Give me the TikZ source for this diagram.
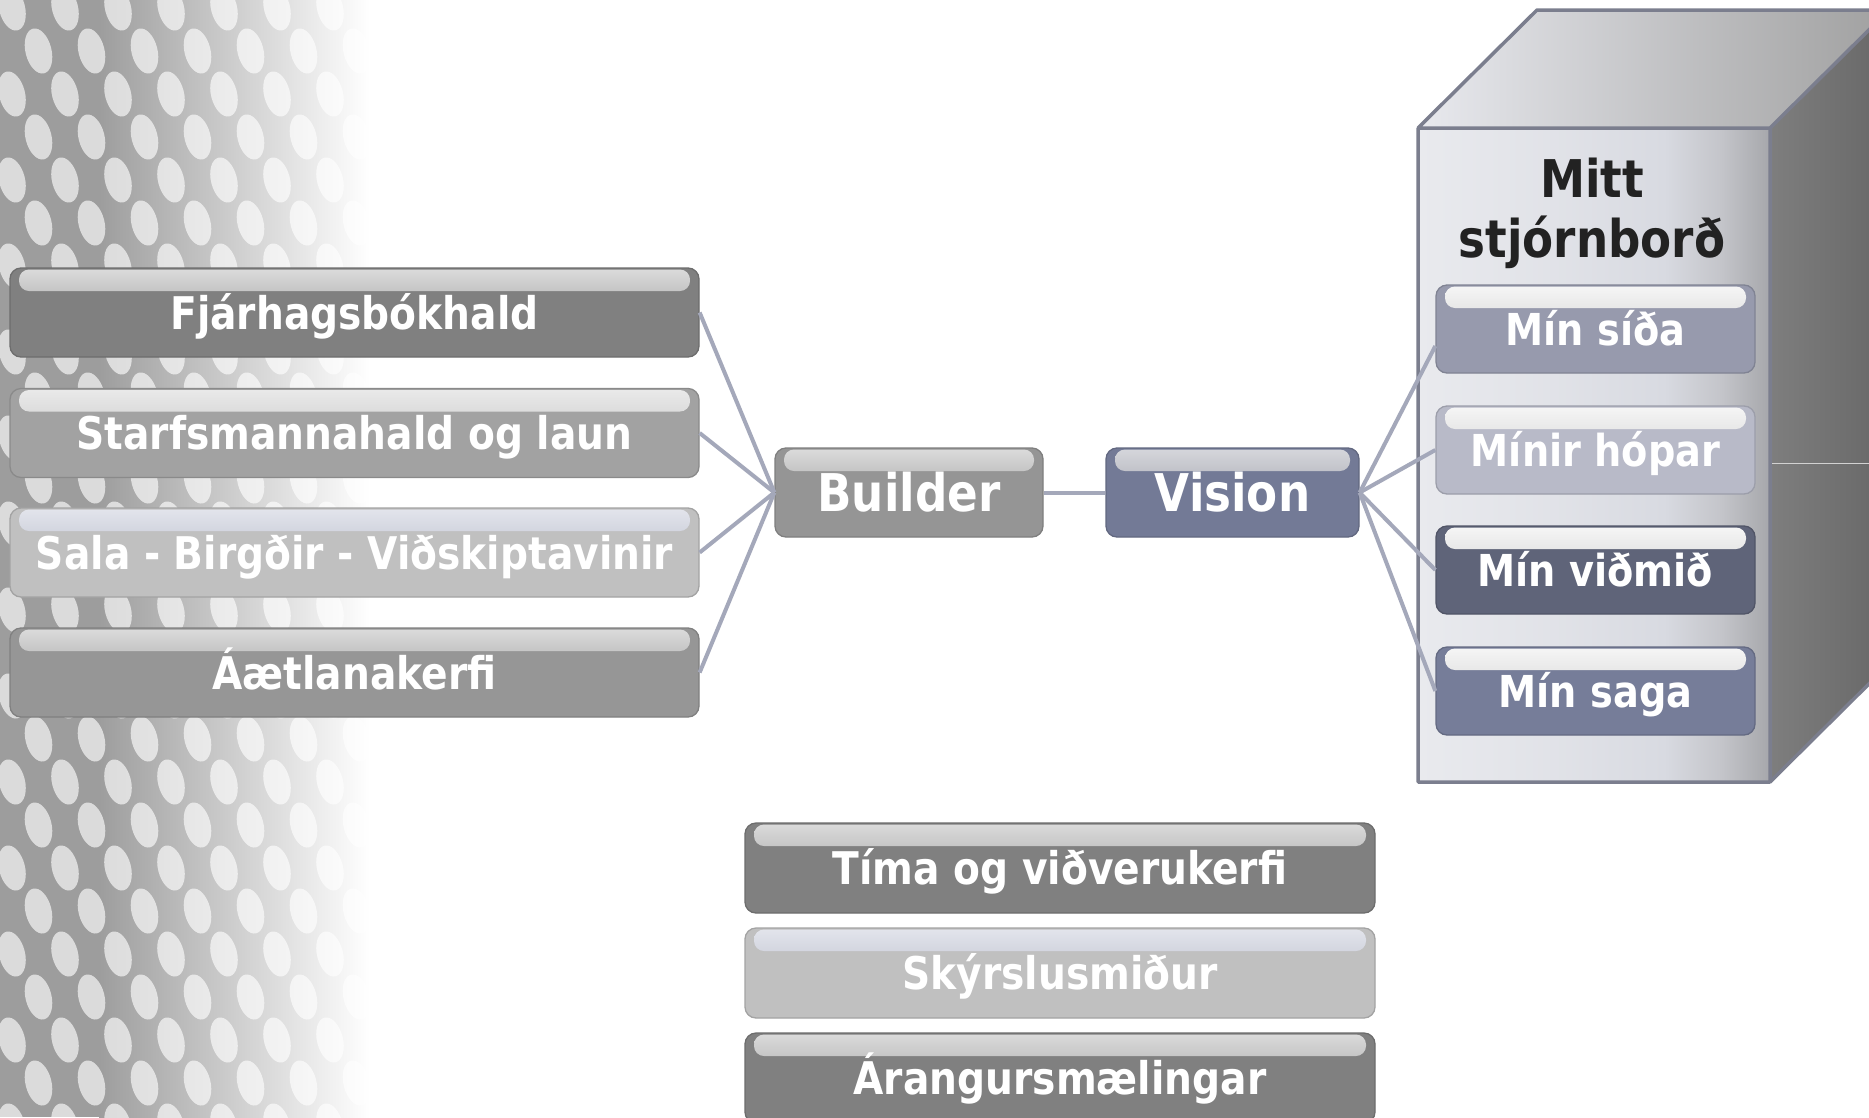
\documentclass[tikz,border=0pt]{standalone}
\usepackage{fontspec}
\newfontfamily\tfont[FakeStretch=0.87]{DejaVu Sans Bold}
\definecolor{cFj}{HTML}{808080}
\definecolor{cSt}{HTML}{A2A2A2}
\definecolor{cSa}{HTML}{C0C0C0}
\definecolor{cAe}{HTML}{969696}
\definecolor{cBu}{HTML}{959595}
\definecolor{cVi}{HTML}{737A96}
\definecolor{cMs}{HTML}{979AAD}
\definecolor{cMh}{HTML}{B8BAC8}
\definecolor{cMv}{HTML}{5F6479}
\definecolor{cMg}{HTML}{767D99}
\definecolor{conncol}{HTML}{A4A8BA}
\definecolor{bDkT}{HTML}{DCDCDC}
\definecolor{bDkB}{HTML}{858585}
\definecolor{bMdT}{HTML}{EAEAEA}
\definecolor{bMdB}{HTML}{B6B6B6}
\definecolor{bBlT}{HTML}{E3E5EC}
\definecolor{bBlB}{HTML}{A5A9BC}
\definecolor{bLtT}{HTML}{F6F6F6}
\definecolor{bLtB}{HTML}{C0C0C0}
\definecolor{bViT}{HTML}{D6D7DC}
\definecolor{bViB}{HTML}{868893}
\definecolor{cubeborder}{HTML}{7B7E8E}
\definecolor{frontL}{HTML}{E9EAEE}
\definecolor{frontM}{HTML}{D8DAE1}
\definecolor{frontMM}{HTML}{C4C5CA}
\definecolor{frontR}{HTML}{A6A7AB}
\definecolor{topL}{HTML}{E8E9EE}
\definecolor{topR}{HTML}{A0A0A0}
\definecolor{sideL}{HTML}{7E7E7E}
\definecolor{sideR}{HTML}{676767}
\definecolor{titlecol}{HTML}{222222}
\definecolor{bgA}{HTML}{9D9D9D}
\pgfdeclarehorizontalshading{frontsh}{100bp}{color(0bp)=(frontL); color(25bp)=(frontL); color(45bp)=(frontL!50!frontM); color(60bp)=(frontM); color(68bp)=(frontMM); color(75bp)=(frontR); color(100bp)=(frontR)}
\tikzset{
  gb/.style n args={3}{rectangle, rounded corners=11pt, inner sep=0pt,
    fill=#1, draw=#1!85!black, line width=1.3pt, text=white,
    path picture={\shade[top color=#2, bottom color=#3, rounded corners=10pt]
      ([xshift=9pt,yshift=-1.5pt]path picture bounding box.north west) rectangle
      ([xshift=-9pt,yshift=-23pt]path picture bounding box.north east);}},
  tA/.style={font=\tfont\fontsize{45}{54}\selectfont, text height=33pt, text depth=0pt},
  tB/.style={font=\tfont\fontsize{52}{60}\selectfont, text height=38pt, text depth=0pt},
  tC/.style={font=\tfont\fontsize{44}{52}\selectfont, text height=32pt, text depth=0pt},
  leftbox/.style={minimum width=689pt, minimum height=89pt, tA},
  midbox/.style={minimum height=89pt, tB},
  itembox/.style={minimum width=319pt, minimum height=88pt, tC},
  botbox/.style={minimum width=630pt, minimum height=90pt, tA},
  conn/.style={draw=conncol, line width=4pt},
  titletext/.style={font=\tfont\fontsize{52}{60}\selectfont, text=titlecol, align=center, inner sep=0pt}
}
\begin{document}
\begin{tikzpicture}[x=1pt,y=-1pt]
\useasboundingbox (0,0) rectangle (1869,1117);
\fill[white] (0,0) rectangle (1869,1117);
% background halftone
\begin{scope}
\clip (0,0) rectangle (420,1117);
\fill[bgA] (0,0) rectangle (100,1117);
\fill[left color=bgA, right color=white] (99,0) rectangle (370,1117);
\foreach \r in {0,...,26}{
  \foreach \c in {0,...,8}{
    \pgfmathsetmacro\xx{\c*53+mod(\r,2)*26.5+12}
    \pgfmathsetmacro\yy{\r*43+8}
    \fill[white, opacity=0.64, rotate around={14:(\xx,\yy)}] (\xx,\yy) ellipse [x radius=13, y radius=23];
  }
}
\end{scope}
% cube
\shade[left color=sideL, right color=sideR] (1770,128) -- (1889,10) -- (1889,664) -- (1770,782) -- cycle;
\draw[white!65!gray, line width=1pt] (1770,463) -- (1869,463);
\shade[left color=topL, right color=topR] (1418,128) -- (1537,10) -- (1889,10) -- (1770,128) -- cycle;
\shade[shading=frontsh] (1418,128) rectangle (1770,782);
\draw[cubeborder, line width=3.5pt, line join=round] (1418,128) -- (1537,10) -- (1889,10) (1418,128) rectangle (1770,782) (1770,128) -- (1889,10) (1770,782) -- (1889,664);
\node[titletext] (ttl) at (1592,213) {Mitt\\stjórnborð};
% left boxes
\node[gb={cFj}{bDkT}{bDkB}, leftbox] (fj) at (354.5,312.5) {Fjárhagsbókhald};
\node[gb={cSt}{bMdT}{bMdB}, leftbox] (st) at (354.5,433) {Starfsmannahald og laun};
\node[gb={cSa}{bBlT}{bBlB}, leftbox] (sa) at (354.5,552.5) {Sala - Birgðir - Viðskiptavinir};
\node[gb={cAe}{bDkT}{bDkB}, leftbox] (ae) at (354.5,672.5) {Áætlanakerfi};
% middle
\node[gb={cBu}{bDkT}{bDkB}, midbox, minimum width=268pt] (bu) at (909,492.5) {Builder};
\node[gb={cVi}{bViT}{bViB}, midbox, minimum width=253pt] (vi) at (1232.5,492.5) {Vision};
% cube items
\node[gb={cMs}{bLtT}{bLtB}, itembox] (ms) at (1595.5,329) {Mín síða};
\node[gb={cMh}{bLtT}{bLtB}, itembox] (mh) at (1595.5,450) {Mínir hópar};
\node[gb={cMv}{bLtT}{bLtB}, itembox] (mv) at (1595.5,570) {Mín viðmið};
\node[gb={cMg}{bLtT}{bLtB}, itembox] (mg) at (1595.5,691) {Mín saga};
% bottom boxes
\node[gb={cFj}{bDkT}{bDkB}, botbox] (ti) at (1060,868) {Tíma og viðverukerfi};
\node[gb={cSa}{bBlT}{bBlB}, botbox] (sk) at (1060,973) {Skýrslusmiður};
\node[gb={cFj}{bDkT}{bDkB}, botbox] (ar) at (1060,1078) {Árangursmælingar};
% connectors
\draw[conn] (fj.east) -- (bu.west);
\draw[conn] (st.east) -- (bu.west);
\draw[conn] (sa.east) -- (bu.west);
\draw[conn] (ae.east) -- (bu.west);
\draw[conn] (bu.east) -- (vi.west);
\draw[conn] (vi.east) -- ([yshift=-17pt]ms.west);
\draw[conn] (vi.east) -- (mh.west);
\draw[conn] (vi.east) -- (mv.west);
\draw[conn] (vi.east) -- (mg.west);
\end{tikzpicture}
\end{document}
